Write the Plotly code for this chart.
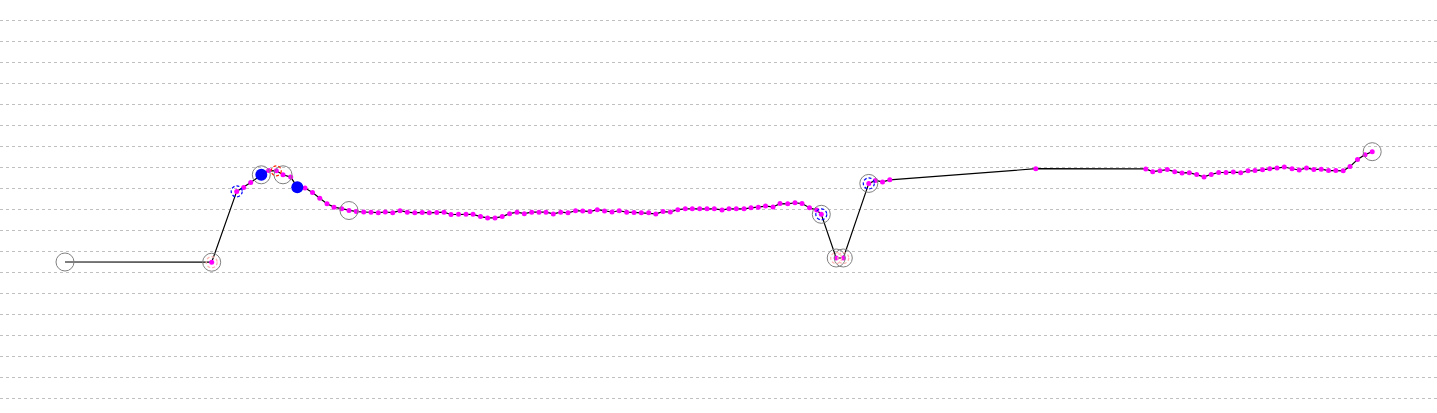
import plotly.graph_objects as go

# Series (x position, value)
x_vals = [65, 211.7, 236.7, 243.7, 250.7, 261.3, 268.7, 276.3, 283, 290.7, 297.3, 305, 312.5, 319.8, 327, 334, 341.7,
          349, 356.3, 363.7, 371, 378.3, 385.3, 392.7, 400, 407.3, 414.8, 422.2, 429.3, 436.8, 444, 451, 458.5, 466,
          473, 480.5, 487.6, 495, 502.2, 509.6, 517, 524.3, 531.7, 539, 546, 553.3, 560.7, 568, 575.5, 582.7, 590,
          597.3, 604.5, 612, 619.2, 626.7, 634, 641.3, 648.7, 655.8, 663, 670.3, 677.8, 685.3, 692.3, 699.7, 707,
          714.3, 722, 729, 736.3, 744, 751, 758.3, 765.5, 773, 780, 787.7, 795, 802, 809.5, 816.7, 821.3, 836.2,
          843.3, 868.8, 875.5, 882.5, 889.8, 1035.8, 1145.8, 1152.7, 1160, 1167.3, 1174.7, 1182, 1189.3, 1196.7,
          1204, 1211.2, 1218.7, 1226, 1233.3, 1240.7, 1248, 1255, 1262.5, 1269.8, 1277, 1284.3, 1292, 1299.2,
          1306.5, 1313.8, 1321.2, 1328.5, 1335.8, 1343.2, 1350, 1357.5, 1365, 1372.2]
y_vals = [6.52, 6.51, 9.88, 10.07, 10.30, 10.67, 10.87, 10.86, 10.67, 10.56, 10.08, 10.04, 9.83, 9.55, 9.29, 9.13, 9.05,
          8.97, 8.92, 8.90, 8.89, 8.87, 8.90, 8.87, 8.96, 8.89, 8.86, 8.88, 8.86, 8.88, 8.89, 8.78, 8.79, 8.79,
          8.79, 8.68, 8.62, 8.62, 8.68, 8.82, 8.89, 8.82, 8.89, 8.89, 8.89, 8.81, 8.89, 8.86, 8.96, 8.95, 8.92,
          9.01, 8.95, 8.90, 8.96, 8.89, 8.88, 8.86, 8.86, 8.81, 8.92, 8.90, 9.01, 9.05, 9.05, 9.05, 9.05,
          9.05, 9.00, 9.05, 9.05, 9.05, 9.10, 9.13, 9.18, 9.14, 9.30, 9.29, 9.34, 9.30, 9.10, 8.99, 8.79, 6.71,
          6.71, 10.26, 10.40, 10.33, 10.43, 10.96, 10.95, 10.82, 10.86, 10.92, 10.82, 10.76, 10.77, 10.68,
          10.57, 10.69, 10.78, 10.78, 10.80, 10.77, 10.86, 10.87, 10.91, 10.96, 11.00, 11.04, 10.96, 10.90,
          11.00, 10.92, 10.94, 10.87, 10.87, 10.86, 11.06, 11.40, 11.63, 11.77]

# Highlighted points (indices into the series)
gray_ring_idx = [0, 1, 5, 8, 17, 82, 83, 84, 85, len(x_vals) - 1]
blue_fill_idx = [5, 10]
blue_dashed_idx = [2, 82, 85]
red_dashed_idx = [7]
pink_dashed_idx = [1, 83, 84]

fig = go.Figure()
fig.add_trace(go.Scatter(x=x_vals, y=y_vals, mode="lines",
                         line=dict(color="black", width=1.2), hoverinfo="skip"))
fig.add_trace(go.Scatter(x=x_vals[1:], y=y_vals[1:], mode="markers",
                         marker=dict(color="#ff00ff", size=5, line=dict(width=0))))
fig.add_trace(go.Scatter(x=[x_vals[i] for i in gray_ring_idx], y=[y_vals[i] for i in gray_ring_idx],
                         mode="markers",
                         marker=dict(symbol="circle-open", size=18, color="#808080", line=dict(width=1))))
fig.add_trace(go.Scatter(x=[x_vals[i] for i in blue_fill_idx], y=[y_vals[i] for i in blue_fill_idx],
                         mode="markers", marker=dict(color="#0000ff", size=12, line=dict(width=0))))

def ring(i, color, r):
    return dict(type="circle", xref="x", yref="y", xsizemode="pixel", ysizemode="pixel",
                xanchor=x_vals[i], yanchor=y_vals[i], x0=-r, x1=r, y0=-r, y1=r,
                line=dict(color=color, width=1.2, dash="3px,2px"))

shapes = []
shapes += [ring(i, "#0000ff", 5.5) for i in blue_dashed_idx]
shapes += [ring(i, "#ff2000", 5) for i in red_dashed_idx]
shapes += [ring(i, "#ffb0b0", 5.5) for i in pink_dashed_idx]

fig.update_layout(
    width=1437, height=413, margin=dict(l=0, r=0, t=0, b=0),
    paper_bgcolor="white", plot_bgcolor="white", showlegend=False,
    shapes=shapes,
    xaxis=dict(range=[0, 1437], showgrid=False, zeroline=False, showticklabels=False, visible=False),
    yaxis=dict(range=[-0.6667, 18.99], dtick=1, tick0=0, showgrid=True, gridcolor="#c0c0c0",
               griddash="3px,3px", gridwidth=1, zeroline=False, showticklabels=False, ticks=""),
)

fig.write_html("out.html", config={"displayModeBar": False},
               post_script="document.body.style.margin='0';document.body.style.overflow='hidden';")
